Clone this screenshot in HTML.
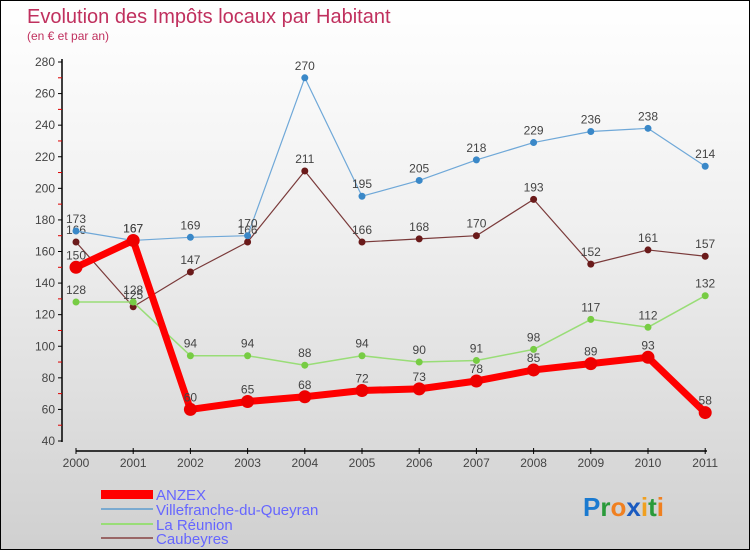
<!DOCTYPE html>
<html><head><meta charset="utf-8"><style>
body{margin:0}
#c{width:748px;height:548px;border:1px solid #000;background:linear-gradient(#fff 0%,#f0f0f0 40%,#d0d0d0 100%);position:relative;font-family:"Liberation Sans",sans-serif}
</style></head><body>
<div id="c">
<svg id="s" width="748" height="548" xmlns="http://www.w3.org/2000/svg" font-family="Liberation Sans, sans-serif">
<text x="26" y="22" font-size="20" fill="#c0305e">Evolution des Impôts locaux par Habitant</text>
<text x="26" y="39" font-size="12" fill="#c0305e">(en € et par an)</text>
<g id="axes"></g><g id="plot"></g>
<g>
<rect x="100" y="489" width="52" height="9" fill="#f00"/>
<text x="155" y="499" font-size="15" fill="#6666ff">ANZEX</text>
<line x1="100" y1="508" x2="152" y2="508" stroke="#7aaad0" stroke-width="2"/>
<text x="155" y="514" font-size="15" fill="#6666ff">Villefranche-du-Queyran</text>
<line x1="100" y1="523" x2="152" y2="523" stroke="#99dd77" stroke-width="2"/>
<text x="155" y="529" font-size="15" fill="#6666ff">La Réunion</text>
<line x1="100" y1="537" x2="152" y2="537" stroke="#996666" stroke-width="2"/>
<text x="155" y="543" font-size="15" fill="#6666ff">Caubeyres</text>
</g>
<text x="582" y="515" font-size="26" font-weight="bold"><tspan fill="#1a7ad0">P</tspan><tspan fill="#2a9a3a">r</tspan><tspan fill="#f08020">o</tspan><tspan fill="#1a5ac0">x</tspan><tspan fill="#f0a020">i</tspan><tspan fill="#2a9a3a">t</tspan><tspan fill="#f08020">i</tspan></text>
</svg></div>
<script>
const years=["2000","2001","2002","2003","2004","2005","2006","2007","2008","2009","2010","2011"];
const yTicks=[40,60,80,100,120,140,160,180,200,220,240,260,280];
const anzex=[150,167,60,65,68,72,73,78,85,89,93,58];
const villefranche=[173,167,169,170,270,195,205,218,229,236,238,214];
const reunion=[128,128,94,94,88,94,90,91,98,117,112,132];
const caubeyres=[166,125,147,166,211,166,168,170,193,152,161,157];
const NS="http://www.w3.org/2000/svg";
const X=i=>75+i*57.2, Y=v=>440-(v-40)*379/240;
function mk(t,a,p){const e=document.createElementNS(NS,t);for(const k in a)e.setAttribute(k,a[k]);p.appendChild(e);return e;}
const ax=document.getElementById('axes'),pl=document.getElementById('plot');
let l=mk('line',{x1:61,y1:58,x2:61,y2:441,stroke:'#000','stroke-width':1.5},ax);

yTicks.forEach((v,i)=>{mk('line',{x1:57,x2:61,y1:Y(v),y2:Y(v),stroke:'#000'},ax);
 if(i<yTicks.length-1)mk('line',{x1:57,x2:61,y1:Y(v+10),y2:Y(v+10),stroke:'#d00'},ax);
 const t=mk('text',{x:54,y:Y(v)+4,'font-size':12,fill:'#444','text-anchor':'end'},ax);t.textContent=v;
 });
l=mk('line',{x1:75,y1:450,x2:706,y2:450,stroke:'#000','stroke-width':1.5},ax);

years.forEach((y,i)=>{mk('line',{x1:X(i),x2:X(i),y1:447,y2:453,stroke:'#000'},ax);
 const t=mk('text',{x:X(i),y:466,'font-size':12,fill:'#444','text-anchor':'middle'},ax);t.textContent=y;
 });
function series(d,name,col,dot,w,r){
 const g=mk('g',{},pl);
 mk('polyline',{points:d.map((v,i)=>X(i)+','+Y(v)).join(' '),fill:'none',stroke:col,'stroke-width':w,'stroke-linejoin':'round'},g);
 d.forEach((v,i)=>{const c=mk('circle',{cx:X(i),cy:Y(v),r:r,fill:dot},g);
  
  const t=mk('text',{x:X(i),y:Y(v)-8,'font-size':12,fill:'#444','text-anchor':'middle'},g);t.textContent=v;
  });
}
series(caubeyres,'caubeyres','#7a3a3a','#6a1a1a',1.2,3.5);
series(reunion,'reunion','#99dd77','#77cc44',1.5,3.5);
series(villefranche,'villefranche','#6fa8d8','#3a88c8',1.2,3.5);
series(anzex,'anzex','#f00','#e00',7,6.5);
</script>
</body></html>
